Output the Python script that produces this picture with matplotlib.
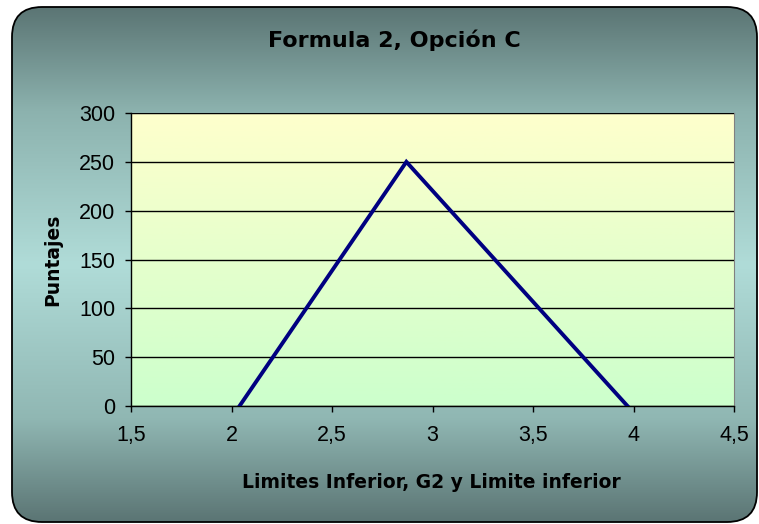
import numpy as np
import matplotlib
matplotlib.use("Agg")
import matplotlib.pyplot as plt
from matplotlib.patches import FancyBboxPatch
from matplotlib.colors import LinearSegmentedColormap
from matplotlib.ticker import FuncFormatter, MultipleLocator

# Data
x_vals = [2.04, 2.87, 3.97]
y_vals = [0, 250, 0]
title = "Formula 2, Opción C"
xlabel = "Limites Inferior, G2 y Limite inferior"
ylabel = "Puntajes"

plt.rcParams['font.family'] = ['Liberation Sans', 'DejaVu Sans']

W, H = 759, 524
fig = plt.figure(figsize=(W/100, H/100), dpi=100)
fig.patch.set_facecolor('white')

# Background axes with gradient and rounded border
bg = fig.add_axes([0, 0, 1, 1])
bg.set_xlim(0, W)
bg.set_ylim(H, 0)
bg.axis('off')
bg_cmap = LinearSegmentedColormap.from_list(
    'bg', [(0.0, '#5b7574'), (0.2, '#8cb2ae'), (0.5, '#b0dcd8'), (0.8, '#90b7b3'), (1.0, '#5b7574')])
grad = np.linspace(0, 1, 256).reshape(-1, 1)
im = bg.imshow(grad, aspect='auto', cmap=bg_cmap, extent=[12, 757, 522, 7], zorder=0)
box = FancyBboxPatch((12, 7), 745, 515, boxstyle="round,pad=0,rounding_size=30",
                     facecolor='none', edgecolor='black', linewidth=1.3, zorder=2)
bg.add_patch(box)
im.set_clip_path(box)

# Plot axes
ax = fig.add_axes([131/W, 1 - 406/H, (734-131)/W, (406-113)/H])
ax.set_xlim(1.5, 4.5)
ax.set_ylim(0, 300)
pa_cmap = LinearSegmentedColormap.from_list('pa', ['#ccffcc', '#ffffcc'])
ax.imshow(np.linspace(0, 1, 256).reshape(-1, 1), aspect='auto', cmap=pa_cmap,
          extent=[1.5, 4.5, 0, 300], origin='lower', zorder=0)
ax.yaxis.set_major_locator(MultipleLocator(50))
ax.xaxis.set_major_locator(MultipleLocator(0.5))
ax.grid(axis='y', color='black', linewidth=1.0, zorder=1)
ax.set_axisbelow(False)
ax.plot(x_vals, y_vals, color='#000080', linewidth=2.8, zorder=3, solid_joinstyle='miter')

fmt = FuncFormatter(lambda v, p: ('%g' % v).replace('.', ','))
ax.xaxis.set_major_formatter(fmt)
ax.yaxis.set_major_formatter(fmt)
ax.tick_params(axis='both', direction='out', length=4.5, width=1, labelsize=15.5, colors='black')
ax.tick_params(axis='x', pad=9)
ax.tick_params(axis='y', pad=7)
for s in ['top', 'right']:
    ax.spines[s].set_color('#808080')
for s in ['left', 'bottom']:
    ax.spines[s].set_color('black')
    ax.spines[s].set_linewidth(1.0)

fig.text(394/W, 1 - 40/H, title, ha='center', va='center', fontsize=16,
         fontweight='bold', family='DejaVu Sans')
fig.text(431/W, 1 - 482/H, xlabel, ha='center', va='center', fontsize=13.5,
         fontweight='bold', family='DejaVu Sans')
fig.text(53/W, 1 - 260/H, ylabel, ha='center', va='center', fontsize=13.5,
         fontweight='bold', rotation=90, family='DejaVu Sans')

fig.savefig('out.png', dpi=100, facecolor=fig.get_facecolor())
